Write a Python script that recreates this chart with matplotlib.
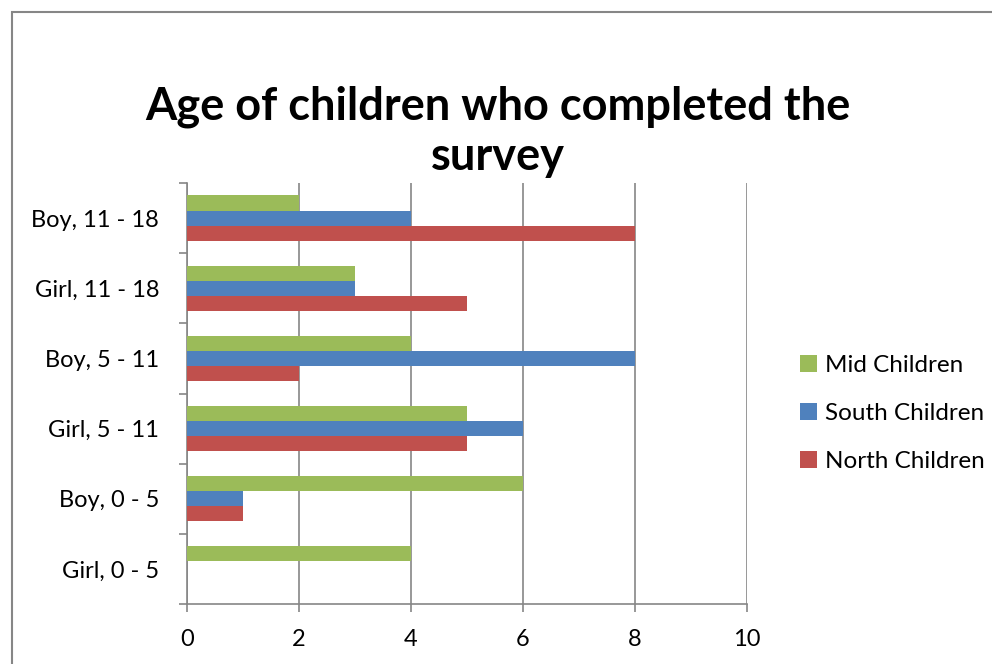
import matplotlib
matplotlib.use("Agg")
import matplotlib.pyplot as plt
from matplotlib.patches import Rectangle
import numpy as np

plt.rcParams['font.family'] = ['Lato', 'DejaVu Sans']

categories = ["Girl, 0 - 5", "Boy, 0 - 5", "Girl, 5 - 11", "Boy, 5 - 11", "Girl, 11 - 18", "Boy, 11 - 18"]
north = [0, 1, 5, 2, 5, 8]
south = [0, 1, 6, 8, 3, 4]
mid = [4, 6, 5, 4, 3, 2]
series_names = ["North Children", "South Children", "Mid Children"]
colors = ["#C0504D", "#4F81BD", "#9BBB59"]
xticks = [0, 2, 4, 6, 8, 10]

fig = plt.figure(figsize=(9.92, 6.64), dpi=100)
fig.patches.append(Rectangle((12/992, -0.1), 1.2, 1 - 12/664 + 0.1, transform=fig.transFigure,
                             fill=False, edgecolor="#868686", linewidth=1.5))
ax = fig.add_axes([187/992, 1 - 604/664, 560/992, (604 - 183)/664])

y = np.arange(len(categories))
h = 0.215
for i, (vals, name, c) in enumerate(zip([north, south, mid], series_names, colors)):
    ax.barh(y + (i - 1) * h, vals, height=h, color=c, label=name, zorder=3)

ax.set_xlim(0, 10)
ax.set_ylim(-0.5, len(categories) - 0.5)
ax.set_xticks(xticks)
ax.set_xticklabels([str(t) for t in xticks], fontsize=17)
ax.set_yticks(y)
ax.set_yticklabels(categories, fontsize=17)
ax.tick_params(axis='y', length=0, pad=20)
ax.set_yticks(np.arange(-0.5, len(categories), 1), minor=True)
ax.tick_params(axis='y', which='minor', length=6, color="#868686", width=1.2)
ax.tick_params(axis='x', length=6, color="#868686", width=1.2, pad=12)
ax.grid(axis='x', color="#868686", linewidth=1.2, zorder=0)
for s in ["top", "right"]:
    ax.spines[s].set_visible(False)
for s in ["left", "bottom"]:
    ax.spines[s].set_color("#868686")
    ax.spines[s].set_linewidth(1.2)

fig.text(0.502, 1 - 132/664, "Age of children who completed the\nsurvey", ha="center", va="center",
         fontsize=32.5, fontweight="bold", linespacing=1.25)

handles, labels = ax.get_legend_handles_labels()
ax.legend(handles[::-1], labels[::-1], loc="center left", bbox_to_anchor=(1.055, 0.452), frameon=False,
          fontsize=17.5, handlelength=0.7, handleheight=0.7, labelspacing=1.1, handletextpad=0.35)

fig.savefig("out.png", dpi=100)
